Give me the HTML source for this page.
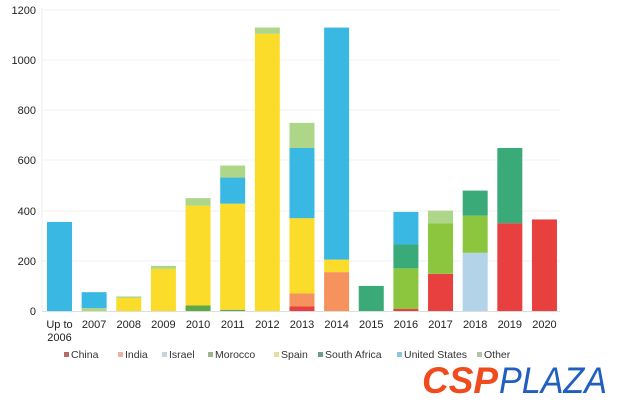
<!DOCTYPE html><html><head><style>body{margin:0;background:#fff;width:620px;height:407px;overflow:hidden}</style></head><body>
<svg width="620" height="407" xmlns="http://www.w3.org/2000/svg" font-family="Liberation Sans, sans-serif">
<g stroke="#f0f0f0" stroke-width="1">
<line x1="42" x2="560" y1="261" y2="261"/><line x1="42" x2="560" y1="211" y2="211"/><line x1="42" x2="560" y1="160" y2="160"/><line x1="42" x2="560" y1="110" y2="110"/><line x1="42" x2="560" y1="60" y2="60"/><line x1="42" x2="560" y1="10" y2="10"/>
</g>
<line x1="42" x2="42" y1="8" y2="311" stroke="#eee"/>
<line x1="42" x2="560" y1="311.5" y2="311.5" stroke="#ddd"/>
<g font-size="11" fill="#222" text-anchor="end">
<text x="36" y="315">0</text><text x="36" y="265">200</text><text x="36" y="215">400</text><text x="36" y="164">600</text><text x="36" y="114">800</text><text x="36" y="64">1000</text><text x="36" y="14">1200</text>
</g>
<g id="bars"></g>
<g font-size="11" fill="#222" text-anchor="middle" id="xl"></g>
<g font-size="10.5" fill="#333" id="leg"></g>
<text x="422" y="393" font-size="37" font-weight="bold" font-style="italic" fill="#f04a1d" textLength="76" lengthAdjust="spacingAndGlyphs">CSP</text>
<text x="499" y="393" font-size="37" font-style="italic" fill="#1e5fbf" textLength="108" lengthAdjust="spacingAndGlyphs">PLAZA</text>
<script>
var C={c:"#e8403f",i:"#f5925e",is:"#b3d3e8",m:"#8cc63f",md:"#5fa84a",s:"#fcdc2a",sa:"#3aaa78",u:"#3ab8e4",o:"#add688"};
var D=[[["u",355]],[["o",12],["u",75]],[["s",52],["o",58]],[["s",168],["o",180]],[["md",22],["s",420],["o",450]],[["md",5],["s",428],["u",532],["o",580]],[["s",1105],["o",1130]],[["c",18],["i",70],["s",370],["u",650],["o",750]],[["i",155],["s",205],["u",1130]],[["sa",100]],[["c",8],["m",170],["sa",265],["u",395]],[["c",148],["m",350],["o",400]],[["is",232],["m",380],["sa",480]],[["c",350],["sa",650]],[["c",365]]];
var L=["Up to","2007","2008","2009","2010","2011","2012","2013","2014","2015","2016","2017","2018","2019","2020"];
var ns="http://www.w3.org/2000/svg",b=document.getElementById("bars"),xl=document.getElementById("xl");
function y(v){return 311-v*301/1200}
D.forEach(function(d,k){var cx=59.5+k*34.64,p=0;d.forEach(function(s){var r=document.createElementNS(ns,"rect");r.setAttribute("x",cx-12.5);r.setAttribute("width",25);r.setAttribute("y",y(s[1]));r.setAttribute("height",y(p)-y(s[1]));r.setAttribute("fill",C[s[0]]);b.appendChild(r);p=s[1];});
var t=document.createElementNS(ns,"text");t.setAttribute("x",cx);t.setAttribute("y",328);t.textContent=L[k];xl.appendChild(t);});
var t=document.createElementNS(ns,"text");t.setAttribute("x",59.5);t.setAttribute("y",341);t.textContent="2006";xl.appendChild(t);
var G=[["China","#b86a6a",64],["India","#e8b4a8",118],["Israel","#c8d4da",162],["Morocco","#9cb88a",208],["Spain","#e8dca0",274],["South Africa","#6a9e88",318],["United States","#8cc4d8",397],["Other","#b4c4a4",477]],lg=document.getElementById("leg");
G.forEach(function(g){var r=document.createElementNS(ns,"rect");r.setAttribute("x",g[2]);r.setAttribute("y",352);r.setAttribute("width",5);r.setAttribute("height",5);r.setAttribute("fill",g[1]);lg.appendChild(r);var t=document.createElementNS(ns,"text");t.setAttribute("x",g[2]+7);t.setAttribute("y",358);t.textContent=g[0];lg.appendChild(t);});
</script>
</svg></body></html>
